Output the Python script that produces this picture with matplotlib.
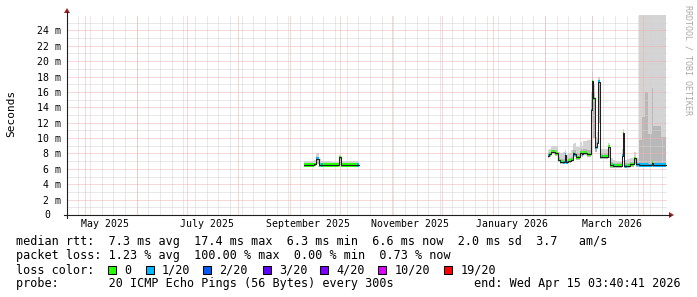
import matplotlib
matplotlib.use('Agg')
import matplotlib.pyplot as plt
import matplotlib.dates as mdates
from matplotlib.patches import Rectangle, Polygon
from matplotlib.lines import Line2D
import numpy as np
import pandas as pd

plt.rcParams['font.family'] = 'DejaVu Sans Mono'

# ping samples (ms); a NaN median closes a run of data
sample_time = [
    '2025-09-09 12:00', '2025-09-12 12:00', '2025-09-15 12:00', '2025-09-16 12:00',
    '2025-09-18 12:00', '2025-09-19 12:00', '2025-09-20 12:00', '2025-09-25 12:00',
    '2025-09-30 12:00', '2025-10-01 12:00', '2025-10-06 12:00', '2025-10-11 00:00',
    '2025-10-12 12:00',
    '2026-02-02 12:00', '2026-02-03 12:00', '2026-02-04 12:00', '2026-02-07 00:00',
    '2026-02-09 00:00', '2026-02-10 00:00', '2026-02-12 00:00', '2026-02-12 18:00',
    '2026-02-13 12:00', '2026-02-15 00:00', '2026-02-16 12:00', '2026-02-17 12:00',
    '2026-02-18 12:00', '2026-02-19 12:00', '2026-02-22 00:00', '2026-02-23 00:00',
    '2026-02-24 00:00', '2026-02-26 00:00', '2026-02-28 12:00', '2026-03-01 00:00',
    '2026-03-02 00:00', '2026-03-03 00:00', '2026-03-04 00:00', '2026-03-05 00:00',
    '2026-03-06 00:00', '2026-03-07 00:00', '2026-03-08 00:00', '2026-03-11 00:00',
    '2026-03-12 00:00', '2026-03-14 00:00', '2026-03-15 00:00', '2026-03-19 00:00',
    '2026-03-19 12:00', '2026-03-20 12:00', '2026-03-21 00:00', '2026-03-22 00:00',
    '2026-03-24 00:00', '2026-03-26 12:00', '2026-03-27 12:00', '2026-03-29 12:00',
    '2026-03-31 00:00', '2026-04-02 00:00', '2026-04-04 00:00', '2026-04-06 00:00',
    '2026-04-07 00:00', '2026-04-09 00:00', '2026-04-11 12:00', '2026-04-14 12:00',
]
median_ms = [
    6.5, 6.5, 6.6, 7.3, 6.5, 6.5, 6.5, 6.5, 7.5, 6.5, 6.5, 6.5, np.nan,
    7.7, 7.9, 8.2, 8.0, 7.2, 6.9, 6.85, 7.8, 6.85, 7.05, 7.2, 8.0,
    7.9, 7.5, 8.1, 7.9, 8.1, 7.9, 13.6, 17.4, 15.2, 8.8, 9.3, 17.3,
    7.6, 7.6, 7.6, 8.9, 6.5, 6.4, 6.4, 7.7, 10.6, 6.4, 6.35, 6.4,
    6.6, 7.4, 6.6, 6.5, 6.5, 6.5, 6.45, 6.8, 6.5, 6.5, 6.5, np.nan,
]
lost_pings = [
    0, 0, 0, 1, 0, 1, 0, 0, 0, 0, 0, 1, 0,
    1, 0, 0, 0, 0, 0, 1, 1, 1, 0, 0, 0,
    1, 0, 0, 1, 0, 0, 1, 0, 0, 1, 1, 1,
    0, 1, 0, 0, 0, 1, 0, 1, 0, 0, 1, 0,
    0, 0, 1, 1, 1, 1, 1, 0, 1, 1, 1, 0,
]
smoke_min = [
    6.3, 6.3, 6.4, 6.6, 6.3, 6.3, 6.3, 6.3, 6.5, 6.3, 6.3, 6.3, np.nan,
    7.4, 7.6, 7.9, 7.7, 6.9, 6.6, 6.6, 6.8, 6.6, 6.8, 6.9, 7.6,
    7.6, 7.2, 7.7, 7.6, 7.8, 7.6, 8.5, 12.0, 10.0, 8.2, 8.6, 12.0,
    7.3, 7.3, 7.3, 7.4, 6.1, 6.1, 6.1, 7.0, 7.5, 6.1, 6.1, 6.1,
    6.3, 6.6, 6.3, 6.2, 6.2, 6.2, 6.2, 6.3, 6.2, 6.2, 6.2, np.nan,
]
smoke_mid = [
    6.7, 6.7, 6.8, 7.6, 6.8, 6.7, 6.7, 6.7, 7.6, 6.7, 6.7, 6.7, np.nan,
    8.0, 8.2, 8.5, 8.4, 7.6, 7.3, 7.3, 8.0, 7.2, 7.4, 7.6, 8.5,
    8.4, 8.0, 8.6, 8.4, 8.6, 8.4, 15.0, 18.0, 16.0, 9.5, 10.0, 17.6,
    8.0, 8.0, 8.0, 9.0, 6.9, 6.8, 6.7, 8.0, 10.8, 6.8, 6.7, 6.8,
    6.9, 7.6, 6.9, 9.8, 12.8, 16.0, 10.5, 16.5, 11.6, 11.6, 10.2, np.nan,
]
smoke_max = [
    7.0, 7.0, 7.2, 8.0, 7.3, 7.0, 7.0, 6.9, 7.8, 7.0, 7.0, 7.0, np.nan,
    8.4, 8.6, 9.0, 9.0, 8.2, 8.0, 8.2, 8.4, 7.8, 8.0, 8.4, 9.2,
    9.4, 8.8, 9.5, 9.0, 9.6, 9.8, 16.0, 18.6, 17.0, 10.2, 10.8, 18.0,
    8.6, 8.6, 8.6, 9.3, 7.4, 7.2, 7.0, 8.6, 11.2, 7.3, 7.2, 7.3,
    7.4, 8.2, 7.4, 30, 30, 30, 30, 30, 30, 30, 30, np.nan,
]

loss_steps = [0, 1, 2, 3, 4, 10, 19]
loss_labels = ['0', '1/20', '2/20', '3/20', '4/20', '10/20', '19/20']
loss_colors = ['#26ff00', '#00b8ff', '#0059ff', '#5e00ff', '#7e00ff', '#dd00ff', '#ff0000']

y_ticks = [2, 4, 6, 8, 10, 12, 14, 16, 18, 20, 22, 24]
month_labels = ['May 2025', 'July 2025', 'September 2025', 'November 2025',
                'January 2026', 'March 2026']
month_label_dates = ['2025-05-13', '2025-07-13', '2025-09-12', '2025-11-12',
                     '2026-01-12', '2026-03-13']

legend_rows = [
    'median rtt:  7.3 ms avg  17.4 ms max  6.3 ms min  6.6 ms now  2.0 ms sd  3.7   am/s',
    'packet loss: 1.23 % avg  100.00 % max  0.00 % min  0.73 % now',
]
probe_text = 'probe:       20 ICMP Echo Pings (56 Bytes) every 300s'
end_text = 'end: Wed Apr 15 03:40:41 2026'

W, H = 697, 297
fig = plt.figure(figsize=(W / 100, H / 100), dpi=100)


def fx(x):
    return x / W


def fy(y):
    return 1 - y / H


ax = fig.add_axes([fx(67), fy(215), 600 / W, 200 / H])
t_start = mdates.date2num(pd.Timestamp('2025-04-20 03:40:41'))
t_end = mdates.date2num(pd.Timestamp('2026-04-15 03:40:41'))
ax.set_xlim(t_start, t_end)
ax.set_ylim(0, 26)
for s in ax.spines.values():
    s.set_visible(False)

t = mdates.date2num(pd.to_datetime(sample_time))
med = np.array(median_ms, dtype=float)
lo = np.array(smoke_min, dtype=float)
mid = np.array(smoke_mid, dtype=float)
hi = np.array(smoke_max, dtype=float)
loss = np.array(lost_pings)
ok = ~np.isnan(med[:-1])
left = t[:-1][ok]
width = np.diff(t)[ok]

# smoke
ax.bar(left, (hi - lo)[:-1][ok], width=width, bottom=lo[:-1][ok], align='edge',
       color='#d4d4d4', linewidth=0, zorder=1)
ax.bar(left, (mid - lo)[:-1][ok], width=width, bottom=lo[:-1][ok], align='edge',
       color='#b8b8b8', linewidth=0, zorder=1.2)

# grid, 1px dotted
dot = dict(lw=0.72, ls=(0, (1, 1)))
for d in pd.date_range('2025-04-27', '2026-04-14', freq='7D'):
    ax.axvline(mdates.date2num(d), color='#d2d2d2', zorder=2, **dot)
for v in range(1, 26, 2):
    ax.axhline(v, color='#d2d2d2', zorder=2, **dot)
for d in pd.date_range('2025-05-01', '2026-04-01', freq='MS'):
    ax.axvline(mdates.date2num(d), color='#efb2b2', zorder=2.1, **dot)
for v in y_ticks:
    ax.axhline(v, color='#efb2b2', zorder=2.1, **dot)

# median coloured by loss
band = 0.2
lcol = {k: c for k, c in zip(loss_steps, loss_colors)}
cols = [lcol[k] for k in loss[:-1][ok]]
ax.bar(left, 2 * band, width=width, bottom=med[:-1][ok] - band, align='edge',
       color=cols, linewidth=0, zorder=3)
ax.step(t, med, where='post', color='#202020', lw=0.75, zorder=4)

# ticks
ax.set_yticks(y_ticks)
ax.set_yticklabels(['%d m' % v for v in y_ticks])
ax.set_xticks(mdates.date2num(pd.to_datetime(month_label_dates)))
ax.set_xticklabels(month_labels)
ax.tick_params(axis='both', length=0, labelsize=7.15, colors='black')
ax.tick_params(axis='y', pad=4.3)
ax.tick_params(axis='x', pad=3)
fig.text(fx(50), fy(215), '0', ha='right', va='center', fontsize=7.15)

# axes with arrows
fig.add_artist(Line2D([fx(64), fx(670)], [fy(215), fy(215)], color='#202020', lw=0.8))
fig.add_artist(Line2D([fx(67), fx(67)], [fy(218), fy(12)], color='#202020', lw=0.8))
fig.add_artist(Polygon([[fx(64), fy(13)], [fx(70), fy(13)], [fx(67), fy(8)]],
                       closed=True, color='#9b2020', lw=0))
fig.add_artist(Polygon([[fx(669), fy(212)], [fx(669), fy(218)], [fx(674), fy(215)]],
                       closed=True, color='#9b2020', lw=0))

fig.text(fx(11), fy(113.5), 'Seconds', rotation=90, ha='center', va='center', fontsize=8)
fig.text(fx(688), fy(5), 'RRDTOOL / TOBI OETIKER', rotation=270, ha='center', va='top',
         fontsize=6, color='#aaaaaa')

# legend
fs = 8.45
fig.text(fx(16), fy(241), legend_rows[0], ha='left', va='center', fontsize=fs)
fig.text(fx(16), fy(256), legend_rows[1], ha='left', va='center', fontsize=fs)
fig.text(fx(16), fy(270), 'loss color:', ha='left', va='center', fontsize=fs)
box_x = [108, 145.5, 203, 262.5, 320, 378, 444]
for bx, lab, c in zip(box_x, loss_labels, loss_colors):
    fig.add_artist(Rectangle((fx(bx), fy(274)), 8 / W, 8 / H, facecolor=c,
                             edgecolor='black', lw=0.75))
    fig.text(fx(bx + 16.5), fy(270), lab, ha='left', va='center', fontsize=fs)
fig.text(fx(16), fy(284), probe_text, ha='left', va='center', fontsize=fs)
fig.text(fx(681), fy(284), end_text, ha='right', va='center', fontsize=fs)

fig.savefig('out.png', dpi=100)
